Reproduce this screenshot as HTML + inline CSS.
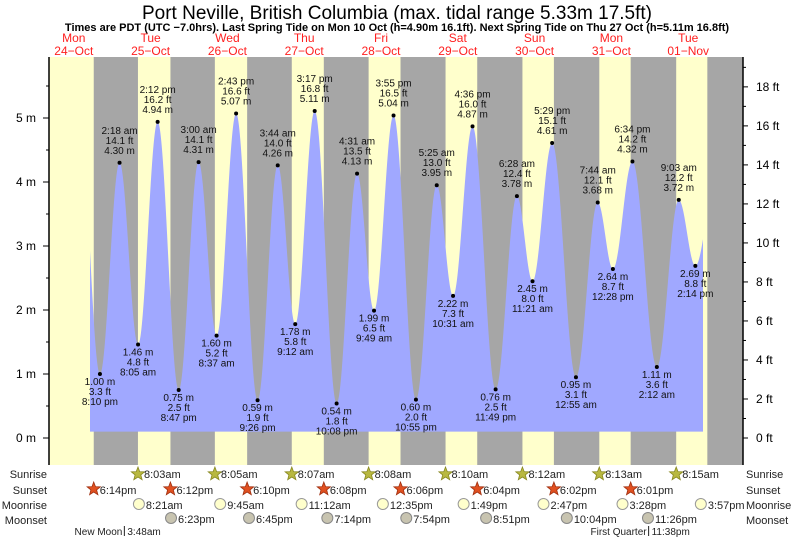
<!DOCTYPE html>
<html><head><meta charset="utf-8"><style>
body{margin:0;background:#fff;}
svg{display:block;font-family:"Liberation Sans",sans-serif;}
</style></head><body>
<svg id="c" width="793" height="539" viewBox="0 0 793 539" xmlns="http://www.w3.org/2000/svg">
<text x="397" y="19" text-anchor="middle" font-size="19">Port Neville, British Columbia (max. tidal range 5.33m 17.5ft)</text>
<text x="397" y="31" text-anchor="middle" font-size="11" font-weight="bold">Times are PDT (UTC −7.0hrs). Last Spring Tide on Mon 10 Oct (h=4.90m 16.1ft). Next Spring Tide on Thu 27 Oct (h=5.11m 16.8ft)</text>
<g id="bg"></g>
<g id="tide"></g>
<g id="axes"></g>
<g id="labels"></g>
<g id="days"></g>
<g id="astro"></g>
</svg>
<script>
// hours since Mon 24-Oct 00:00
const tideHours=[20.17,26.3,32.08,38.2,44.78,51,56.62,62.72,69.43,75.73,81.2,87.28,94.13,100.52,105.82,111.92,118.92,125.42,130.52,136.6,143.82,150.47,155.35,161.48,168.92,175.73,180.47,186.57,194.2,201.05,206.23];
const tideMeters=[1.00,4.30,1.46,4.94,0.75,4.31,1.60,5.07,0.59,4.26,1.78,5.11,0.54,4.13,1.99,5.04,0.60,3.95,2.22,4.87,0.76,3.78,2.45,4.61,0.95,3.68,2.64,4.32,1.11,3.72,2.69];
const tideFeet=["3.3","14.1","4.8","16.2","2.5","14.1","5.2","16.6","1.9","14.0","5.8","16.8","1.8","13.5","6.5","16.5","2.0","13.0","7.3","16.0","2.5","12.4","8.0","15.1","3.1","12.1","8.7","14.2","3.6","12.2","8.8"];
const tideTimes=["8:10 pm","2:18 am","8:05 am","2:12 pm","8:47 pm","3:00 am","8:37 am","2:43 pm","9:26 pm","3:44 am","9:12 am","3:17 pm","10:08 pm","4:31 am","9:49 am","3:55 pm","10:55 pm","5:25 am","10:31 am","4:36 pm","11:49 pm","6:28 am","11:21 am","5:29 pm","12:55 am","7:44 am","12:28 pm","6:34 pm","2:12 am","9:03 am","2:14 pm"];
const dayNames=["Mon","Tue","Wed","Thu","Fri","Sat","Sun","Mon","Tue"];
const dayDates=["24\u2212Oct","25\u2212Oct","26\u2212Oct","27\u2212Oct","28\u2212Oct","29\u2212Oct","30\u2212Oct","31\u2212Oct","01\u2212Nov"];
const sunriseH=[8.05,8.08,8.12,8.13,8.17,8.2,8.22,8.25];
const sunriseTxt=["8:03am","8:05am","8:07am","8:08am","8:10am","8:12am","8:13am","8:15am"];
const sunsetH=[18.23,18.2,18.17,18.13,18.1,18.07,18.03,18.02,17.98];
const sunsetTxt=["6:14pm","6:12pm","6:10pm","6:08pm","6:06pm","6:04pm","6:02pm","6:01pm"];
const moonriseH=[32.35,57.75,83.2,108.58,133.82,158.78,183.47,207.95];
const moonriseTxt=["8:21am","9:45am","11:12am","12:35pm","1:49pm","2:47pm","3:28pm","3:57pm"];
const moonsetH=[42.38,66.75,91.23,115.9,140.85,166.07,191.43];
const moonsetTxt=["6:23pm","6:45pm","7:14pm","7:54pm","8:51pm","10:04pm","11:26pm"];
const phaseH=[27.8,191.63];
const phaseTxt=["New Moon","First Quarter"];
const phaseTime=["3:48am","11:38pm"];
const mTicks=[0,1,2,3,4,5];
const ftTicks=[0,2,4,6,8,10,12,14,16,18];

const NS="http://www.w3.org/2000/svg";
const X0=49,X1=743,YT=57,YB=465;
const xs=h=>35.4+h*3.2;
const ys=m=>438-m*64;
function el(tag,attrs,parent,txt){const e=document.createElementNS(NS,tag);for(const k in attrs)e.setAttribute(k,attrs[k]);if(txt!==undefined)e.textContent=txt;parent.appendChild(e);return e;}
const bg=document.getElementById('bg');
let r=el('rect',{x:X0,y:YT,width:X1-X0,height:YB-YT,fill:'#a6a6a6'},bg);


for(let d=0;d<9;d++){
  const rise=d===0?-100:d*24+sunriseH[d-1];
  const set=d*24+sunsetH[d];
  const a=Math.max(X0,xs(rise)),b=Math.min(X1,xs(set));
  if(b>a){const e=el('rect',{x:a,y:YT,width:b-a,height:YB-YT,fill:'#ffffcc'},bg);
  
  }
}
const H=[13.9].concat(tideHours,[212.5]);
const M=[4.9].concat(tideMeters,[4.0]);
function level(h){for(let i=0;i<H.length-1;i++){if(h>=H[i]&&h<=H[i+1]){const f=(h-H[i])/(H[i+1]-H[i]);return M[i]+(M[i+1]-M[i])*(1-Math.cos(Math.PI*f))/2;}}return 0;}
const h0=(90-35.4)/3.2,h1=(703-35.4)/3.2;
let d=`M${xs(h0)},${ys(0.1)}`;
for(let h=h0;h<=h1;h+=0.1)d+=` L${xs(h).toFixed(2)},${ys(level(h)).toFixed(2)}`;
d+=` L${xs(h1)},${ys(level(h1))} L${xs(h1)},${ys(0.1)} Z`;
const tp=el('path',{d:d,fill:'#a0a8ff'},document.getElementById('tide'));


const lab=document.getElementById('labels');
tideHours.forEach((h,i)=>{
  const x=xs(h),y=ys(tideMeters[i]);
  const high=i%2===1;
  const c=el('circle',{cx:x,cy:y,r:2,fill:'#000'},lab);
  
  
  const lines=high?[tideTimes[i],tideFeet[i]+' ft',tideMeters[i].toFixed(2)+' m']:[tideMeters[i].toFixed(2)+' m',tideFeet[i]+' ft',tideTimes[i]];
  const start=high?y-29:y+11;
  lines.forEach((t,j)=>{const e=el('text',{x:x,y:start+j*10,'text-anchor':'middle','font-size':10,fill:'#111'},lab,t);
  
  });
});
const ax=document.getElementById('axes');
el('line',{x1:X0,y1:YT,x2:X0,y2:YB,stroke:'#000','stroke-width':1.5},ax);
el('line',{x1:X1,y1:YT,x2:X1,y2:YB,stroke:'#000','stroke-width':1.5},ax);
for(let m=0;m<=5.5;m+=0.5){el('line',{x1:X0-(m%1===0?6:3),y1:ys(m),x2:X0,y2:ys(m),stroke:'#000'},ax);}
mTicks.forEach(m=>{const e=el('text',{x:36,y:ys(m)+4,'text-anchor':'end','font-size':12},ax,m+' m');

});
for(let f=0;f<=19;f++){const yy=ys(f*0.3048);el('line',{x1:X1,y1:yy,x2:X1+(f%2===0?5:3),y2:yy,stroke:'#000'},ax);}
ftTicks.forEach(f=>{const e=el('text',{x:756,y:ys(f*0.3048)+4,'font-size':12},ax,f+' ft');

});
const dg=document.getElementById('days');
dayNames.forEach((n,i)=>{const x=xs(i*24+12);
const a=el('text',{x:x,y:42,'text-anchor':'middle','font-size':12,fill:'#ff2020'},dg,n);


const b=el('text',{x:x,y:55,'text-anchor':'middle','font-size':12,fill:'#ff2020'},dg,dayDates[i]);

});
const as=document.getElementById('astro');
const rows=[["Sunrise",478],["Sunset",494],["Moonrise",509],["Moonset",524]];
rows.forEach(([t,y])=>{
 const a=el('text',{x:47,y:y,'text-anchor':'end','font-size':11,fill:'#222'},as,t);
 
 
 const b=el('text',{x:746,y:y,'font-size':11,fill:'#222'},as,t);
 
 });
function star(cx,cy,fill,stroke){let p='';for(let k=0;k<10;k++){const rr=k%2?3:7;const a=-Math.PI/2+k*Math.PI/5;p+=(cx+rr*Math.cos(a)).toFixed(1)+','+(cy+rr*Math.sin(a)).toFixed(1)+' ';}return el('polygon',{points:p,fill:fill,stroke:stroke,'stroke-width':0.8},as);}
sunriseH.forEach((h,i)=>{const x=xs((i+1)*24+h);
 const s=star(x,474,'#b8b840','#888820');
 
 
 const t=el('text',{x:x+6,y:478,'font-size':11,fill:'#222'},as,sunriseTxt[i]);
 
 });
sunsetTxt.forEach((txt,i)=>{const x=xs(i*24+sunsetH[i]);
 const s=star(x,489,'#e05020','#a03010');
 
 
 const t=el('text',{x:x+6,y:494,'font-size':11,fill:'#222'},as,txt);
 
 });
moonriseH.forEach((h,i)=>{const x=xs(h);
 const c=el('circle',{cx:x,cy:504,r:5.5,fill:'#ffffcc',stroke:'#999'},as);
 
 
 const t=el('text',{x:x+7,y:509,'font-size':11,fill:'#222'},as,moonriseTxt[i]);
 
 });
moonsetH.forEach((h,i)=>{const x=xs(h);
 const c=el('circle',{cx:x,cy:518,r:5.5,fill:'#c8c4b0',stroke:'#888'},as);
 
 
 const t=el('text',{x:x+7,y:523,'font-size':11,fill:'#222'},as,moonsetTxt[i]);
 
 });
phaseH.forEach((h,i)=>{const x=xs(h);
 const t=el('text',{x:x-2,y:535,'text-anchor':'end','font-size':10,fill:'#222'},as,phaseTxt[i]);
 
 
 const l=el('line',{x1:x,y1:526,x2:x,y2:536,stroke:'#222'},as);
 
 
 const u=el('text',{x:x+3,y:535,'font-size':10,fill:'#222'},as,phaseTime[i]);
 
 });
</script>
</body></html>
